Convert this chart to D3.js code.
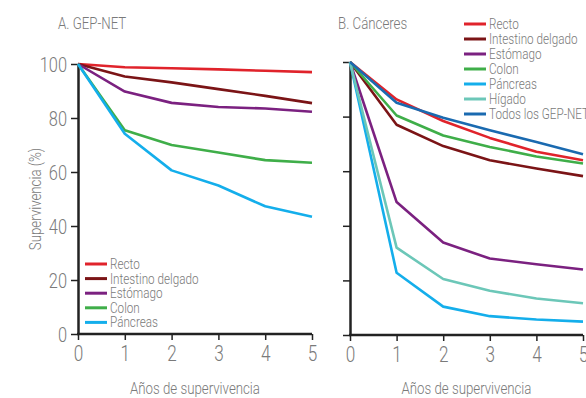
<!DOCTYPE html>
<html>
<head>
<meta charset="utf-8">
<script src="https://cdn.jsdelivr.net/npm/d3@7"></script>
<style>
  body { margin: 0; background: #fff; }
  svg text { font-family: Roboto, "Liberation Sans", sans-serif; font-weight: 300; fill: #7a7a7a; }
</style>
</head>
<body>
<div id="chart"></div>
<script>
const WIDTH = 586;
const HEIGHT = 398;

const years = [0, 1, 2, 3, 4, 5];
const yTicks = [0, 20, 40, 60, 80, 100];

// Panel A: GEP-NET
const gepNames = ["Recto", "Intestino delgado", "Estómago", "Colon", "Páncreas"];
const gepColors = ["#e0232b", "#7b1416", "#7b2180", "#3fae49", "#14aeeb"];
const gepRecto = [100, 98.8, 98.4, 98, 97.5, 97];
const gepIntestino = [100, 95.4, 93.2, 90.7, 88.2, 85.5];
const gepEstomago = [100, 89.8, 85.6, 84.1, 83.5, 82.3];
const gepColon = [100, 75.5, 70, 67.2, 64.4, 63.4];
const gepPancreas = [100, 74.2, 60.6, 55, 47.3, 43.4];

// Panel B: Cánceres
const canNames = ["Recto", "Intestino delgado", "Estómago", "Colon", "Páncreas", "Hígado", "Todos los GEP-NET"];
const canColors = ["#e0232b", "#7b1416", "#7b2180", "#3fae49", "#14aeeb", "#6cc7b8", "#1a6ab0"];
const canRecto = [100, 86.3, 78.4, 72.2, 67.1, 64];
const canIntestino = [100, 77, 69.2, 64, 61, 58.2];
const canEstomago = [100, 48.7, 33.9, 28, 25.9, 24];
const canColon = [100, 80.4, 73.1, 68.9, 65.4, 62.8];
const canPancreas = [100, 22.8, 10.4, 6.9, 5.7, 4.9];
const canHigado = [100, 32, 20.5, 16.2, 13.4, 11.6];
const canTodos = [100, 85.1, 79.6, 75, 70.7, 66.2];

const svg = d3.select("#chart").append("svg")
  .attr("width", WIDTH)
  .attr("height", HEIGHT);

function drawPanel(opts) {
  const x = d3.scaleLinear().domain([0, 5]).range(opts.xRange);
  const y = d3.scaleLinear().domain([0, 100]).range(opts.yRange);
  const g = svg.append("g");

  // axes
  const xAxis = g.append("g")
    .attr("transform", `translate(0,${opts.yRange[0]})`)
    .call(d3.axisBottom(x).tickValues(years).tickSize(6).tickPadding(5)
      .tickSizeOuter(0).tickFormat(d3.format("d")));
  const yAxis = g.append("g")
    .attr("transform", `translate(${opts.xRange[0]},0)`)
    .call(d3.axisLeft(y).tickValues(yTicks).tickSize(7).tickPadding(4).tickSizeOuter(0)
      .tickFormat(opts.yLabels ? d3.format("d") : ""));
  [xAxis, yAxis].forEach(a => {
    a.select(".domain").attr("stroke", "#222").attr("stroke-width", 2.5);
    a.selectAll(".tick line").attr("stroke", "#222").attr("stroke-width", 1.5);
    a.selectAll(".tick text")
      .attr("fill", "#7a7a7a")
      .style("font-family", "Roboto, sans-serif");
  });
  xAxis.selectAll(".tick text").attr("font-size", 22);
  yAxis.selectAll(".tick text").attr("font-size", 21).attr("dy", "0.36em");
  xAxis.select(".domain").attr("d", `M${opts.xRange[0] - 1},0H${opts.xRange[1]}`);

  // lines
  const line = d3.line().x((d, i) => x(years[i])).y(d => y(d));
  opts.series.forEach((s, i) => {
    g.append("path")
      .datum(s)
      .attr("fill", "none")
      .attr("stroke", opts.colors[i])
      .attr("stroke-width", 2.6)
      .attr("stroke-linejoin", "round")
      .attr("d", line);
  });

  // title
  g.append("text")
    .attr("x", opts.titleX).attr("y", 29)
    .attr("font-size", 17)
    .text(opts.title);

  // x label
  g.append("text")
    .attr("x", (opts.xRange[0] + opts.xRange[1]) / 2)
    .attr("y", 394)
    .attr("text-anchor", "middle")
    .attr("font-size", 17)
    .text("Años de supervivencia");

  // legend
  const lg = g.append("g").attr("transform", `translate(${opts.legend[0]},${opts.legend[1]})`);
  opts.names.forEach((n, i) => {
    const row = lg.append("g").attr("transform", `translate(0,${i * opts.legendStep})`);
    row.append("line").attr("x1", 0).attr("x2", 22).attr("y1", 0).attr("y2", 0)
      .attr("stroke", opts.colors[i]).attr("stroke-width", 3);
    row.append("text").attr("x", 25).attr("y", 5)
      .attr("font-size", 15)
      .text(n);
  });
}

drawPanel({
  title: "A. GEP-NET",
  titleX: 58,
  xRange: [78, 312],
  yRange: [334, 64],
  yLabels: true,
  series: [gepRecto, gepIntestino, gepEstomago, gepColon, gepPancreas],
  colors: gepColors,
  names: gepNames,
  legend: [85, 264],
  legendStep: 14.6
});

drawPanel({
  title: "B. Cánceres",
  titleX: 338,
  xRange: [350, 583],
  yRange: [335, 62],
  yLabels: false,
  series: [canRecto, canIntestino, canEstomago, canColon, canPancreas, canHigado, canTodos],
  colors: canColors,
  names: canNames,
  legend: [464, 24],
  legendStep: 15
});

// y axis title
svg.append("text")
  .attr("transform", "translate(41,199) rotate(-90)")
  .attr("text-anchor", "middle")
  .attr("font-size", 17)
  .text("Supervivencia (%)");

// the original uses a condensed face: squeeze every label horizontally
svg.selectAll("text").each(function() {
  const len = this.getComputedTextLength();
  if (len > 0) {
    d3.select(this)
      .attr("textLength", len * 0.78)
      .attr("lengthAdjust", "spacingAndGlyphs");
  }
});
</script>
</body>
</html>
